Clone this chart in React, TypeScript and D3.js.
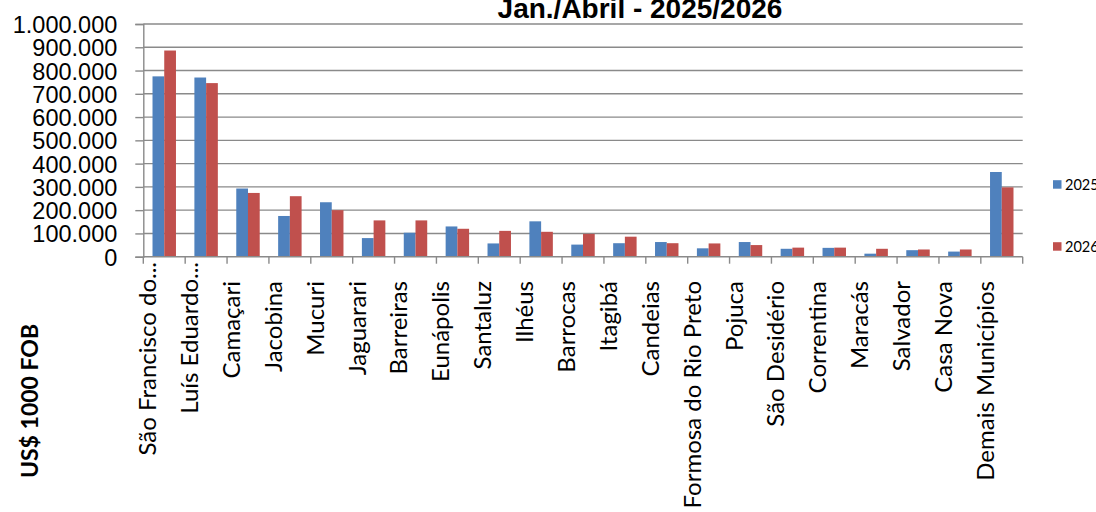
import React from 'react'
import * as d3 from 'd3'

const municipios = [
    'São Francisco do...', 'Luís Eduardo...', 'Camaçari', 'Jacobina', 'Mucuri', 'Jaguarari',
    'Barreiras', 'Eunápolis', 'Santaluz', 'Ilhéus', 'Barrocas', 'Itagibá', 'Candeias',
    'Formosa do Rio Preto', 'Pojuca', 'São Desidério', 'Correntina', 'Maracás', 'Salvador',
    'Casa Nova', 'Demais Municípios'
]
const series = ['2025', '2026']
const valores2025 = [775000, 770000, 293000, 175000, 234000, 80000, 103000, 130000, 57000, 152000, 52000, 58000, 63000, 36000, 63000, 34000, 38000, 13000, 28000, 22000, 364000]
const valores2026 = [886000, 746000, 274000, 260000, 200000, 156000, 156000, 120000, 111000, 107000, 98000, 86000, 58000, 57000, 50000, 39000, 39000, 34000, 31000, 31000, 298000]
const yTicks = [0, 100000, 200000, 300000, 400000, 500000, 600000, 700000, 800000, 900000, 1000000]
const colors = ['#4F81BD', '#C0504D']

export default class App extends React.Component {
    svgRef = React.createRef<SVGSVGElement>()

    drawChart() {
        document.body.style.margin = '0'
        const svg = d3.select(this.svgRef.current)
        svg.selectAll('*').remove()

        const left = 143.3, right = 1022.7, top = 24, bottom = 256.7
        const calibri = 'Lato, "Open Sans", sans-serif'
        const arial = '"Liberation Sans", Arial, sans-serif'

        const x = d3.scaleBand().domain(municipios).range([left, right]).paddingInner(0.44).paddingOuter(0.22)
        const xs = d3.scaleBand().domain(series).range([0, x.bandwidth()])
        const y = d3.scaleLinear().domain([0, 1000000]).range([bottom, top])
        const step = x.step()

        const fmt = d3.formatLocale({ decimal: ',', thousands: '.', grouping: [3], currency: ['', ''] }).format(',d')

        // gridlines
        svg.append('g').selectAll('line').data(yTicks.slice(1)).enter().append('line')
            .attr('x1', left).attr('x2', right)
            .attr('y1', d => y(d)).attr('y2', d => y(d))
            .attr('stroke', '#8a8a8a').attr('stroke-width', 1.4)

        // bars
        const data = [valores2025, valores2026]
        series.forEach((s, si) => {
            svg.append('g').selectAll('rect').data(municipios).enter().append('rect')
                .attr('x', d => (x(d) as number) + (xs(s) as number))
                .attr('y', (d, i) => y(data[si][i]))
                .attr('width', xs.bandwidth())
                .attr('height', (d, i) => bottom - y(data[si][i]))
                .attr('fill', colors[si])
        })

        // y axis
        const yAxis = d3.axisLeft(y).tickValues(yTicks).tickSize(8).tickFormat(d => fmt(d as number))
        const gy = svg.append('g').attr('transform', `translate(${left},0)`).call(yAxis)
        gy.select('.domain').attr('stroke', '#8a8a8a').attr('stroke-width', 1.4)
        gy.selectAll('.tick line').attr('stroke', '#8a8a8a').attr('stroke-width', 1.4)
        gy.selectAll('.tick text').attr('x', -26).attr('dy', '0.36em')
            .attr('font-family', arial).attr('font-size', 23.5).attr('fill', '#000')

        // x axis ticks at category boundaries
        const gx = svg.append('g')
        gx.append('line').attr('x1', left).attr('x2', right).attr('y1', bottom).attr('y2', bottom)
            .attr('stroke', '#8a8a8a').attr('stroke-width', 1.4)
        gx.selectAll('line.t').data(d3.range(municipios.length + 1)).enter().append('line')
            .attr('class', 't')
            .attr('x1', i => left + i * step).attr('x2', i => left + i * step)
            .attr('y1', bottom).attr('y2', bottom + 7)
            .attr('stroke', '#8a8a8a').attr('stroke-width', 1.4)
        gx.selectAll('text').data(municipios).enter().append('text')
            .attr('transform', d => {
                const cx = (x(d) as number) + x.bandwidth() / 2 - 8
                const ty = d.endsWith('...') ? 262 : 281
                return `translate(${cx},${ty}) rotate(-90)`
            })
            .attr('text-anchor', 'end')
            .attr('font-family', calibri).attr('font-size', 24).attr('fill', '#000')
            .text(d => d)

        // title
        svg.append('text').attr('x', 640).attr('y', 18).attr('text-anchor', 'middle')
            .attr('font-family', arial).attr('font-weight', 'bold').attr('font-size', 28)
            .text('Jan./Abril - 2025/2026')

        // y axis title
        svg.append('text').attr('transform', 'translate(38,401) rotate(-90)')
            .attr('text-anchor', 'middle').attr('font-family', calibri)
            .attr('font-weight', 'bold').attr('font-size', 23)
            .text('US$ 1000 FOB')

        // legend
        const legend = svg.append('g')
        series.forEach((s, i) => {
            const ly = 184.5 + i * 62
            legend.append('rect').attr('x', 1053).attr('y', ly - 4.3).attr('width', 8.5).attr('height', 8.5).attr('fill', colors[i])
            legend.append('text').attr('x', 1065).attr('y', ly).attr('dy', '0.36em')
                .attr('font-family', calibri).attr('font-size', 14.5).text(s)
        })
    }

    componentDidMount() {
        this.drawChart()
    }

    render() {
        return <svg ref={this.svgRef} width={1096} height={512} style={{ display: 'block', background: '#fff' }} />
    }
}
